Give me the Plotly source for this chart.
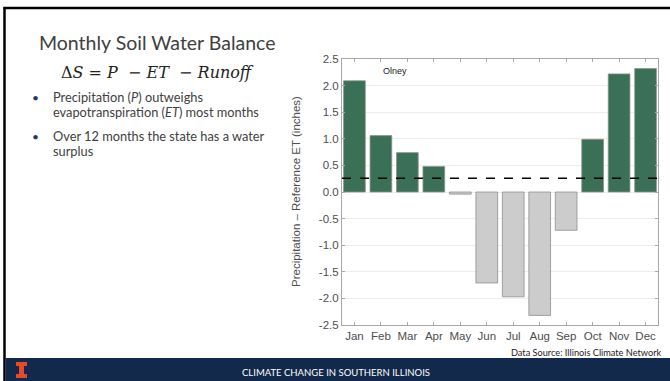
import plotly.graph_objects as go

months = ["Jan", "Feb", "Mar", "Apr", "May", "Jun", "Jul", "Aug", "Sep", "Oct", "Nov", "Dec"]
p_minus_et = [2.09, 1.06, 0.74, 0.48, -0.04, -1.71, -1.97, -2.32, -0.72, 0.99, 2.22, 2.32]
annual_mean = 0.26
y_ticks = [2.5, 2.0, 1.5, 1.0, 0.5, 0.0, -0.5, -1.0, -1.5, -2.0, -2.5]
y_ticklabels = ["2.5", "2.0", "1.5", "1.0", "0.5", "0.0", "-0.5", "-1.0", "-1.5", "-2.0", "-2.5"]

W, H = 670, 381
L, R, T, B = 342, 658, 59, 325


def X(px):
    return (px - L) / (R - L)


def Y(py):
    return (B - py) / (B - T)


GREEN = "#3a7055"
GRAY = "#cccccc"
colors = [GREEN if v >= 0 else GRAY for v in p_minus_et]

fig = go.Figure()
fig.add_trace(go.Bar(
    x=months, y=p_minus_et,
    marker=dict(color=colors, line=dict(color="#8f8f8f", width=0.8)),
    showlegend=False,
))

fig.update_layout(
    width=W, height=H,
    margin=dict(l=L, r=W - R, t=T, b=H - B, pad=0),
    paper_bgcolor="white", plot_bgcolor="white",
    bargap=0.18,
    font=dict(family="Liberation Sans", color="#4d4d4d", size=11),
)
fig.update_xaxes(
    range=[-0.47, 11.47], showgrid=False,
    showline=True, mirror="ticks", linecolor="#a8a8a8", linewidth=1,
    ticks="inside", ticklen=3, tickcolor="#a8a8a8",
    tickfont=dict(size=11.5, color="#4d4d4d", family="Liberation Sans"),
)
fig.update_yaxes(
    range=[-2.5, 2.5], tickvals=y_ticks, ticktext=y_ticklabels,
    showgrid=True, gridcolor="#ededed", gridwidth=1, zeroline=False,
    showline=True, mirror="ticks", linecolor="#a8a8a8", linewidth=1,
    ticks="inside", ticklen=3, tickcolor="#a8a8a8",
    tickfont=dict(size=11.5, color="#4d4d4d", family="Liberation Sans"),
)

shapes = []
# mean dashed line
shapes.append(dict(type="line", xref="paper", yref="y", x0=0, x1=1,
                   y0=annual_mean, y1=annual_mean,
                   line=dict(color="black", width=1.5, dash="dash")))
# slide border
shapes.append(dict(type="line", xref="paper", yref="paper", x0=X(3.5), x1=X(671),
                   y0=Y(8), y1=Y(8), line=dict(color="black", width=2.5)))
shapes.append(dict(type="line", xref="paper", yref="paper", x0=X(4.5), x1=X(4.5),
                   y0=Y(7), y1=Y(382), line=dict(color="black", width=2.5)))
# footer
shapes.append(dict(type="rect", xref="paper", yref="paper", x0=X(5.8), x1=X(671),
                   y0=Y(358), y1=Y(382), fillcolor="#13294b", line=dict(width=0)))
# logo "I"
pts = [(16, 362), (27, 362), (27, 366), (24, 366), (24, 374), (27, 374), (27, 378),
       (16, 378), (16, 374), (19, 374), (19, 366), (16, 366)]
path = "M " + " L ".join(f"{X(a):.5f},{Y(b):.5f}" for a, b in pts) + " Z"
shapes.append(dict(type="path", xref="paper", yref="paper", path=path,
                   fillcolor="#e84a27", line=dict(width=0)))
fig.update_layout(shapes=shapes)

ann = []


def txt(text, px, py, size, color="#404040", family="Lato", xanchor="left", angle=0):
    ann.append(dict(text=text, x=X(px), y=Y(py), xref="paper", yref="paper",
                    xanchor=xanchor, yanchor="middle", showarrow=False,
                    textangle=angle, font=dict(size=size, color=color, family=family)))


txt("Olney", 381, 70.5, 9, color="#222222", family="Liberation Sans")
txt("Precipitation – Reference ET (inches)", 296, 192, 11.5, color="#4d4d4d",
    family="Liberation Sans", xanchor="center", angle=-90)
txt("Data Source: Illinois Climate Network", 663, 353, 9.2, color="#222222", xanchor="right")
txt("CLIMATE CHANGE IN SOUTHERN ILLINOIS", 336, 372, 9.5, color="white", xanchor="center")
txt("Monthly Soil Water Balance", 37, 42, 19.5, color="#404040")
txt("Δ<i>S</i> = <i>P</i>  − <i>ET</i>  − <i>Runoff</i>", 157, 72, 16, color="#222222",
    family="DejaVu Serif", xanchor="center")
txt("•", 30, 97, 12, color="#1f3864")
txt("Precipitation (<i>P</i>) outweighs", 51, 97, 12.8)
txt("evapotranspiration (<i>ET</i>) most months", 51, 112, 12.8)
txt("•", 30, 136, 12, color="#1f3864")
txt("Over 12 months the state has a water", 51, 136, 12.8)
txt("surplus", 51, 151, 12.8)
fig.update_layout(annotations=ann)

fig.write_html("out.html")
